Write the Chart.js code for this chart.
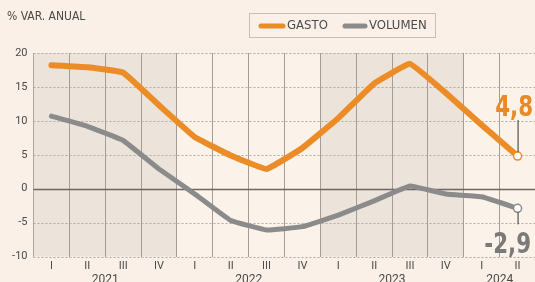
<!DOCTYPE html>
<html>
<head>
<meta charset="utf-8">
<script src="https://cdn.jsdelivr.net/npm/chart.js@4/dist/chart.umd.min.js"></script>
<style>
html,body{margin:0;padding:0;background:#faf0e7;overflow:hidden;}
#wrap{width:535px;height:282px;position:relative;overflow:hidden;}
</style>
</head>
<body>
<div id="wrap"><canvas id="c" width="541" height="282"></canvas></div>
<script>
const quarters = ['I','II','III','IV','I','II','III','IV','I','II','III','IV','I','II'];
const years = ['2021','2022','2023','2024'];
const yearSpans = [4,4,4,2];
const gasto   = [18.2, 17.9, 17.1, 12.3, 7.6, 4.9, 2.9, 6.0, 10.4, 15.5, 18.4, 14.1, 9.4, 4.8];
const volumen = [10.7, 9.2, 7.1, 2.9, -0.8, -4.7, -6.1, -5.6, -3.9, -1.8, 0.4, -0.8, -1.2, -2.9];
const yTicks = [-10, -5, 0, 5, 10, 15, 20];
const endLabels = ['4,8', '-2,9'];
const seriesNames = ['GASTO', 'VOLUMEN'];
const yTitle = '% VAR. ANUAL';

const ORANGE = '#ec8c26';
const GREY = '#8b8b8b';
const NARROW = "'Liberation Sans Narrow','DejaVu Sans Condensed',sans-serif";
const last = quarters.length - 1;

function condensedText(ctx, txt, xRight, yBase, sx) {
  ctx.save();
  ctx.translate(xRight, yBase);
  ctx.scale(sx, 1);
  ctx.textAlign = 'right';
  ctx.textBaseline = 'alphabetic';
  ctx.fillText(txt, 0, 0);
  ctx.restore();
}

const decor = {
  id: 'decor',
  beforeDraw(chart) {
    const {ctx, chartArea: a, scales: {x}} = chart;
    ctx.save();
    ctx.fillStyle = '#faf0e7';
    ctx.fillRect(0, 0, chart.width, chart.height);
    const half = (x.getPixelForValue(1) - x.getPixelForValue(0)) / 2;
    let start = 0;
    yearSpans.forEach((n, k) => {
      const x0 = x.getPixelForValue(start) - half;
      const x1 = x.getPixelForValue(start + n - 1) + half;
      ctx.fillStyle = (k % 2 === 0) ? '#ece3db' : '#fbf2ea';
      ctx.fillRect(x0, a.top, x1 - x0, a.bottom - a.top);
      start += n;
    });
    ctx.restore();
  },
  beforeDatasetsDraw(chart) {
    const {ctx, chartArea: a, scales: {y}} = chart;
    ctx.save();
    yTicks.forEach(v => {
      const py = Math.round(y.getPixelForValue(v)) + 0.5;
      ctx.beginPath();
      if (v === 0) {
        ctx.setLineDash([]);
        ctx.strokeStyle = '#6e6660';
        ctx.lineWidth = 1.3;
      } else {
        ctx.setLineDash([2, 2]);
        ctx.strokeStyle = '#b3aaa2';
        ctx.lineWidth = 1;
      }
      ctx.moveTo(a.left, py);
      ctx.lineTo(a.right, py);
      ctx.stroke();
    });
    ctx.restore();
  },
  afterDatasetsDraw(chart) {
    const {ctx, scales: {x}} = chart;
    ctx.save();
    chart.data.datasets.forEach((ds, i) => {
      const pt = chart.getDatasetMeta(i).data[last];
      ctx.strokeStyle = '#333';
      ctx.lineWidth = 1;
      ctx.beginPath();
      ctx.font = 'bold 29px ' + NARROW;
      if (i === 0) {
        ctx.moveTo(pt.x + 0.5, pt.y - 4);
        ctx.lineTo(pt.x + 0.5, pt.y - 36);
        ctx.stroke();
        ctx.fillStyle = '#e98a28';
        condensedText(ctx, endLabels[i], pt.x + 15.5, pt.y - 40, 0.82);
      } else {
        ctx.moveTo(pt.x + 0.5, pt.y + 4);
        ctx.lineTo(pt.x + 0.5, pt.y + 16);
        ctx.stroke();
        ctx.fillStyle = '#7a7a7a';
        condensedText(ctx, endLabels[i], pt.x + 13.5, pt.y + 45, 0.82);
      }
    });
    ctx.font = '12px Roboto, sans-serif';
    ctx.fillStyle = '#4a4a4a';
    ctx.textAlign = 'center';
    ctx.textBaseline = 'top';
    let start = 0;
    yearSpans.forEach((n, k) => {
      const cx = (x.getPixelForValue(start) + x.getPixelForValue(start + n - 1)) / 2;
      ctx.fillText(years[k], cx, 274);
      start += n;
    });
    ctx.font = '12px ' + NARROW;
    ctx.textAlign = 'left';
    ctx.textBaseline = 'middle';
    ctx.fillText(yTitle, 7, 17);
    ctx.strokeStyle = '#c7bfb7';
    ctx.lineWidth = 1;
    ctx.strokeRect(249.5, 13.5, 186, 24);
    const items = [[259, 285, 287], [343, 367, 369]];
    ctx.font = '13px ' + NARROW;
    chart.data.datasets.forEach((ds, i) => {
      const [s0, s1, tx] = items[i];
      ctx.strokeStyle = ds.borderColor;
      ctx.lineWidth = 5;
      ctx.lineCap = 'round';
      ctx.beginPath();
      ctx.moveTo(s0 + 2, 26);
      ctx.lineTo(s1 - 2, 26);
      ctx.stroke();
      ctx.fillStyle = '#4a4a4a';
      ctx.textAlign = 'left';
      ctx.textBaseline = 'middle';
      ctx.fillText(seriesNames[i], tx, 26);
    });
    ctx.restore();
  }
};

new Chart(document.getElementById('c'), {
  type: 'line',
  data: {
    labels: quarters,
    datasets: [
      {label: seriesNames[0], data: gasto, borderColor: ORANGE, borderWidth: 6},
      {label: seriesNames[1], data: volumen, borderColor: GREY, borderWidth: 5}
    ].map(d => Object.assign(d, {
      tension: 0.08,
      borderJoinStyle: 'round',
      borderCapStyle: 'round',
      pointRadius: c => c.dataIndex === last ? 4 : 0,
      pointBackgroundColor: '#ffffff',
      pointBorderColor: d.borderColor,
      pointBorderWidth: 1.5,
      pointHoverRadius: 0,
      clip: false
    }))
  },
  options: {
    responsive: false,
    animation: false,
    events: [],
    layout: {padding: {top: 53, right: 0, bottom: 0, left: 0}},
    plugins: {legend: {display: false}, tooltip: {enabled: false}},
    scales: {
      x: {
        offset: true,
        grid: {display: true, color: '#a59d95', lineWidth: 1, offset: true, drawTicks: false},
        border: {display: false},
        ticks: {color: '#4a4a4a', font: {size: 11, family: 'Roboto'}, padding: 3, maxRotation: 0, autoSkip: false},
        afterFit: s => { s.height = 25.5; }
      },
      y: {
        min: -10, max: 20,
        afterBuildTicks: s => { s.ticks = yTicks.map(v => ({value: v})); },
        grid: {display: false, drawTicks: false},
        border: {display: true, color: '#b0a8a0', width: 1},
        ticks: {color: '#4a4a4a', font: {size: 11, family: 'Roboto'}, padding: 6},
        afterFit: s => { s.width = 33.5; }
      }
    }
  },
  plugins: [decor]
});
</script>
</body>
</html>
